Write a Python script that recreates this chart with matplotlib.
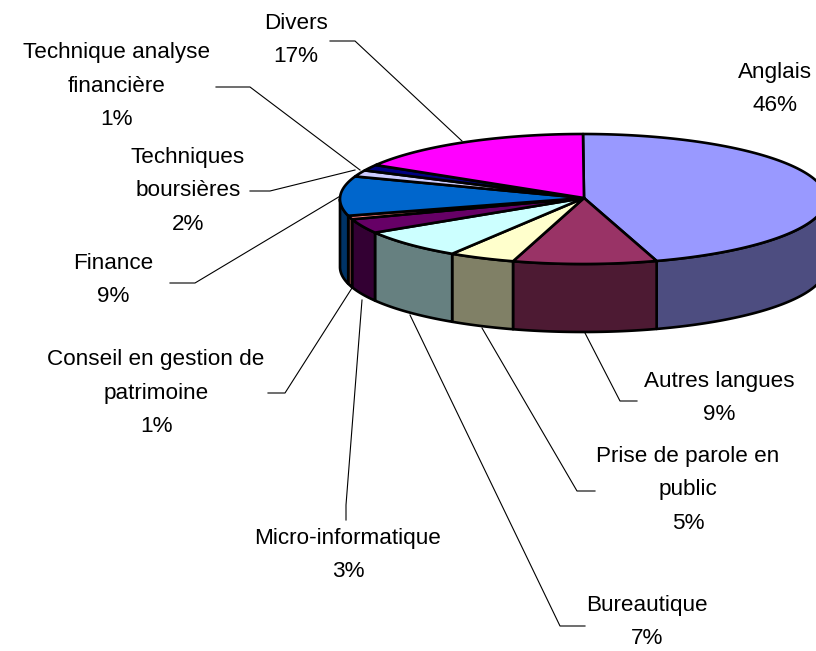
import numpy as np
import matplotlib
matplotlib.use("Agg")
from matplotlib import pyplot as plt
from matplotlib.patches import Polygon

plt.rcParams['font.family'] = ['Liberation Sans', 'DejaVu Sans']

# shares, clockwise from 12 o'clock
categories = ["Anglais", "Autres langues", "Prise de parole en\npublic", "Bureautique",
              "Micro-informatique", "Conseil en gestion de\npatrimoine", "Finance",
              "Techniques\nboursières", "Technique analyse\nfinancière", "Divers"]
shares = [45.1, 9.55, 4.4, 7.3, 3.6, 0.9, 9.8, 1.6, 1.5, 16.25]
pct_labels = ["46%", "9%", "5%", "7%", "3%", "1%", "9%", "2%", "1%", "17%"]
top_colors = ["#9999FF", "#993366", "#FFFFCC", "#CCFFFF", "#660066",
              "#FF8080", "#0066CC", "#CCCCFF", "#000080", "#FF00FF"]
side_colors = ["#4D4D80", "#4D1A33", "#808066", "#668080", "#330033",
               "#804040", "#003366", "#666680", "#000040", "#800080"]

# label centre (x, y) in pixels and leader line points
label_pos = [(775, 89), (719, 398), (688, 490), (647, 622), (348, 555),
             (156, 393), (113, 280), (188, 191), (117, 86), (296, 40)]
leaders = [None,
           [(637, 401), (620, 401), (585, 333)],
           [(595, 491), (577, 491), (482, 328)],
           [(585, 626), (560, 626), (410, 315)],
           [(346, 520), (346, 505), (362, 300)],
           [(268, 393), (285, 393), (352, 288)],
           [(170, 283), (195, 283), (342, 195)],
           [(250, 191), (270, 191), (355, 170)],
           [(216, 87), (250, 87), (360, 170)],
           [(330, 41), (355, 41), (462, 141)]]

# pie geometry in pixels
cx, cy = 583, 199
rx, ry = 243, 65
apex = (584, 198)
depth = 68

fig = plt.figure(figsize=(8.16, 6.51), dpi=100)
ax = fig.add_axes([0, 0, 1, 1])
ax.set_xlim(0, 816)
ax.set_ylim(651, 0)
ax.axis("off")


def arc(a0, a1):
    t = np.radians(np.linspace(a0, a1, max(int(abs(a1 - a0) * 2), 2)))
    return np.column_stack([cx + rx * np.sin(t), cy - ry * np.cos(t)])


edges = np.concatenate([[0], np.cumsum(shares)]) / np.sum(shares) * 360

# leader lines go under the pie
for pts in leaders:
    if pts:
        xs, ys = zip(*pts)
        ax.plot(xs, ys, color="black", lw=0.8, zorder=1)

# side walls, only the front half of the pie shows
for i in range(len(shares)):
    a0 = max(edges[i], 90)
    a1 = min(edges[i + 1], 270)
    if a1 <= a0:
        continue
    top = arc(a0, a1)
    bottom = top[::-1] + [0, depth]
    ax.add_patch(Polygon(np.vstack([top, bottom]), closed=True, fc=side_colors[i],
                         ec="black", lw=1.9, joinstyle="round", zorder=2))

# top face
for i in range(len(shares)):
    pts = np.vstack([[apex], arc(edges[i], edges[i + 1])])
    ax.add_patch(Polygon(pts, closed=True, fc=top_colors[i], ec="black", lw=1.9,
                         joinstyle="round", zorder=3))

for name, pct, (x, y) in zip(categories, pct_labels, label_pos):
    ax.text(x, y, name + "\n" + pct, ha="center", va="center", fontsize=16.2,
            linespacing=1.77, color="black", zorder=4)

fig.savefig("out.png", dpi=100)
